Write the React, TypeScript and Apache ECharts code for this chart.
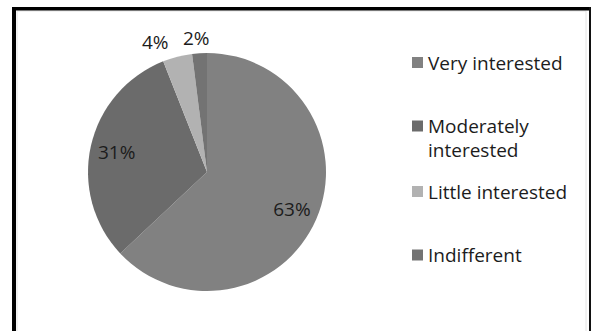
import { useEffect, useRef } from 'react';
import * as echarts from 'echarts';

const categories = ['Very interested', 'Moderately interested', 'Little interested', 'Indifferent'];
const values = [63, 31, 4, 2];
const sliceColors = ['#818181', '#6b6b6b', '#b2b2b2', '#737373'];
const legendLabels = ['Very interested', '\nModerately\ninterested', 'Little interested', 'Indifferent'];

export default function App() {
  const ref = useRef<HTMLDivElement>(null);
  useEffect(() => {
    const chart = echarts.init(ref.current!, null, { renderer: 'svg' });
    const font = '"Open Sans", sans-serif';
    const textColor = '#1c1c1c';
    const legendTops = [50.5, 90, 179.5, 243];
    const baseData = categories.map((name, i) => ({
      name,
      value: values[i],
      itemStyle: { color: sliceColors[i] },
    }));
    const labelData = categories.map((name, i) => ({
      name,
      value: values[i],
      itemStyle: { color: 'rgba(0,0,0,0)' },
      label: i < 2 ? { position: 'inside' } : { position: 'outside' },
      labelLine: { show: false, length: 15.5, length2: 0 },
    }));
    chart.setOption({
      animation: false,
      backgroundColor: '#ffffff',
      graphic: [
        { type: 'rect', shape: { x: 17, y: 11, width: 569, height: 330 }, style: { fill: 'none', stroke: '#e4e4e4', lineWidth: 1 } },
        { type: 'rect', shape: { x: 12, y: 7, width: 4, height: 330 }, style: { fill: '#000' } },
        { type: 'rect', shape: { x: 12, y: 7, width: 579, height: 3.5 }, style: { fill: '#000' } },
        { type: 'rect', shape: { x: 589, y: 7, width: 2, height: 330 }, style: { fill: '#111' } },
      ],
      legend: categories.map((name, i) => ({
        data: [name],
        orient: 'vertical',
        left: 412,
        top: legendTops[i],
        padding: 0,
        itemWidth: 11,
        itemHeight: 11,
        icon: 'rect',
        selectedMode: false,
        formatter: () => legendLabels[i],
        textStyle: { fontFamily: font, fontSize: 19, lineHeight: 24, color: textColor },
      })),
      series: [
        {
          type: 'pie',
          center: [207, 172],
          radius: [0, 119],
          startAngle: 90,
          clockwise: true,
          silent: true,
          data: baseData,
          label: { show: false },
          labelLine: { show: false },
          itemStyle: { borderWidth: 0 },
        },
        {
          type: 'pie',
          center: [207, 172],
          radius: [60, 119],
          startAngle: 90,
          clockwise: true,
          silent: true,
          avoidLabelOverlap: false,
          data: labelData,
          label: {
            show: true,
            formatter: '{c}%',
            fontFamily: font,
            fontSize: 19,
            color: textColor,
          },
          labelLayout: (p: any) => (p.dataIndex === 3 ? { dx: 16 } : {}),
          itemStyle: { borderWidth: 0 },
        },
      ],
    });
    return () => chart.dispose();
  }, []);
  return <div ref={ref} style={{ position: 'fixed', left: 0, top: 0, width: 591, height: 331 }} />;
}
